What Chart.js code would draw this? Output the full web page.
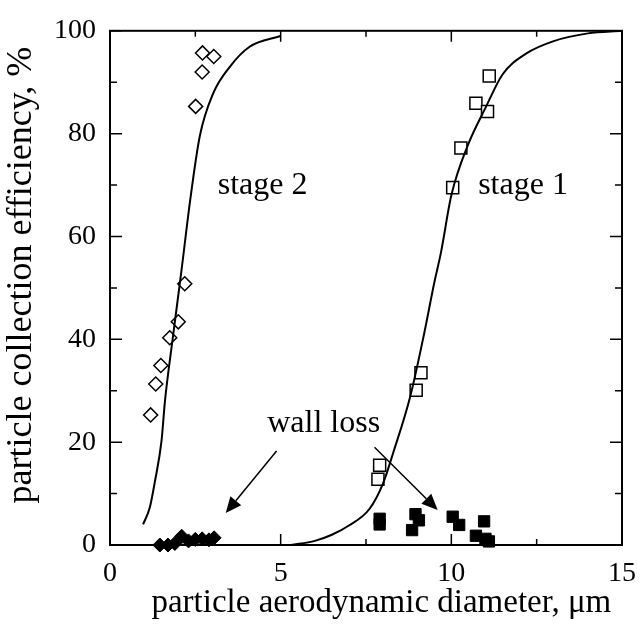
<!DOCTYPE html>
<html>
<head>
<meta charset="utf-8">
<script src="https://cdn.jsdelivr.net/npm/chart.js@4.4.0/dist/chart.umd.min.js"></script>
<style>
html, body { margin: 0; padding: 0; background: #fff; }
</style>
</head>
<body>
<canvas id="chart" width="640" height="627"></canvas>
<script>
// stage 2 collection efficiency (open diamonds)
const stage2X = [1.19, 1.34, 1.49, 1.75, 2.0, 2.19, 2.51, 2.70, 2.71, 3.04]
const stage2Y = [25.3, 31.3, 34.9, 40.3, 43.4, 50.8, 85.3, 92.0, 95.7, 95.0]

// stage 1 collection efficiency (open squares)
const stage1X = [7.85, 7.9, 8.97, 9.11, 10.04, 10.28, 10.72, 11.06, 11.11]
const stage1Y = [12.8, 15.5, 30.1, 33.5, 69.5, 77.2, 85.9, 84.3, 91.2]

// wall loss near stage 2 (filled diamonds)
const wall2X = [1.46, 1.7, 1.9, 2.1, 2.3, 2.5, 2.7, 2.9, 3.05]
const wall2Y = [0, 0, 0.3, 1.7, 0.8, 1.1, 1.2, 1.0, 1.4]

// wall loss near stage 1 (filled squares)
const wall1X = [7.9, 7.9, 8.95, 9.05, 8.85, 10.04, 10.23, 10.96, 10.72, 11.0, 11.1]
const wall1Y = [5.1, 4.0, 6.0, 4.8, 2.9, 5.5, 3.9, 4.6, 1.8, 1.2, 0.7]

// fitted efficiency curves
const curve2X = [0.97, 1.17, 1.32, 1.51, 1.61, 1.85, 2.10, 2.34, 2.63, 3.02, 3.51, 4.09, 5.0]
const curve2Y = [4, 7.4, 12.5, 20.3, 28, 40.8, 53.7, 66.6, 79.5, 87.8, 93, 96.9, 99]
const curve1X = [5.3, 6.0, 6.5, 7.0, 7.6, 8.0, 8.3, 8.8, 9.2, 9.5, 9.7, 10.0, 10.5, 11.0, 11.5, 12.2, 13, 14, 15]
const curve1Y = [0, 0.8, 2, 3.8, 7, 12, 18, 29, 41, 51, 57, 68, 78, 85, 91.5, 95.6, 98, 99.5, 100]

// axis ticks
const xMajor = [0, 5, 10, 15]
const xMinor = [2.5, 7.5, 12.5]
const yMajor = [0, 20, 40, 60, 80, 100]
const yMinor = [10, 30, 50, 70, 90]

// axis titles
const xTitle = 'particle aerodynamic diameter, \u03bcm'
const yTitle = 'particle collection efficiency, %'

// text labels and arrows (data coords)
const labels = [
    { text: 'stage 2', x: 4.47, y: 69.9 },
    { text: 'stage 1', x: 12.1, y: 69.9 },
    { text: 'wall loss', x: 6.26, y: 23.6 }
]
const arrows = [
    { from: [4.88, 18.3], to: [3.39, 6.2] },
    { from: [7.75, 19.0], to: [9.6, 6.8] }
]

const serif = "'Liberation Serif', 'DejaVu Serif', serif"
Chart.defaults.font.family = serif
Chart.defaults.color = '#000'

function pts(xs, ys) {
    let out = []
    for (let i = 0; i < xs.length; i++) {
        out.push({ x: xs[i], y: ys[i] })
    }
    return out
}

const framePlugin = {
    id: 'frame',
    afterDraw(chart) {
        const ctx = chart.ctx
        const a = chart.chartArea
        const xs = chart.scales.x
        const ys = chart.scales.y
        ctx.save()
        ctx.strokeStyle = '#000'
        ctx.lineWidth = 2
        ctx.strokeRect(a.left, a.top, a.right - a.left, a.bottom - a.top)

        // inward ticks on all four sides
        ctx.lineWidth = 1.5
        function xtick(v, len) {
            const px = xs.getPixelForValue(v)
            ctx.beginPath()
            ctx.moveTo(px, a.bottom); ctx.lineTo(px, a.bottom - len)
            ctx.moveTo(px, a.top); ctx.lineTo(px, a.top + len)
            ctx.stroke()
        }
        function ytick(v, len) {
            const py = ys.getPixelForValue(v)
            ctx.beginPath()
            ctx.moveTo(a.left, py); ctx.lineTo(a.left + len, py)
            ctx.moveTo(a.right, py); ctx.lineTo(a.right - len, py)
            ctx.stroke()
        }
        xMajor.forEach(v => xtick(v, 11))
        xMinor.forEach(v => xtick(v, 6))
        yMajor.forEach(v => ytick(v, 12))
        yMinor.forEach(v => ytick(v, 7))

        // text
        ctx.fillStyle = '#000'
        ctx.font = '32px ' + serif
        ctx.textAlign = 'center'
        ctx.textBaseline = 'middle'
        labels.forEach(l => {
            ctx.fillText(l.text, xs.getPixelForValue(l.x), ys.getPixelForValue(l.y))
        })

        // axis titles (the original sits a little off centre)
        ctx.font = '33px ' + serif
        ctx.fillText(xTitle, xs.getPixelForValue(7.95), a.bottom + 58)
        ctx.save()
        ctx.font = '36px ' + serif
        ctx.translate(22, ys.getPixelForValue(52.5))
        ctx.rotate(-Math.PI / 2)
        ctx.fillText(yTitle, 0, 0)
        ctx.restore()

        // arrows
        ctx.lineWidth = 1.5
        arrows.forEach(ar => {
            const x1 = xs.getPixelForValue(ar.from[0]), y1 = ys.getPixelForValue(ar.from[1])
            const x2 = xs.getPixelForValue(ar.to[0]), y2 = ys.getPixelForValue(ar.to[1])
            const ang = Math.atan2(y2 - y1, x2 - x1)
            const hl = 16, hw = 7
            const bx = x2 - hl * Math.cos(ang), by = y2 - hl * Math.sin(ang)
            ctx.beginPath()
            ctx.moveTo(x1, y1); ctx.lineTo(bx, by)
            ctx.stroke()
            ctx.beginPath()
            ctx.moveTo(x2, y2)
            ctx.lineTo(bx + hw * Math.sin(ang), by - hw * Math.cos(ang))
            ctx.lineTo(bx - hw * Math.sin(ang), by + hw * Math.cos(ang))
            ctx.closePath()
            ctx.fill()
        })
        ctx.restore()
    }
}

new Chart(document.getElementById('chart'), {
    type: 'scatter',
    data: {
        datasets: [
            {
                label: 'stage 2 fit', data: pts(curve2X, curve2Y), showLine: true,
                borderColor: '#000', borderWidth: 2, pointRadius: 0, cubicInterpolationMode: 'monotone'
            },
            {
                label: 'stage 1 fit', data: pts(curve1X, curve1Y), showLine: true,
                borderColor: '#000', borderWidth: 2, pointRadius: 0, cubicInterpolationMode: 'monotone'
            },
            {
                label: 'stage 2', data: pts(stage2X, stage2Y), pointStyle: 'rectRot', pointRadius: 7,
                backgroundColor: '#fff', borderColor: '#000', borderWidth: 1.5, clip: false
            },
            {
                label: 'stage 1', data: pts(stage1X, stage1Y), pointStyle: 'rect', pointRadius: 8.5,
                backgroundColor: '#fff', borderColor: '#000', borderWidth: 1.5, clip: false
            },
            {
                label: 'wall loss 2', data: pts(wall2X, wall2Y), pointStyle: 'rectRot', pointRadius: 7,
                backgroundColor: '#000', borderColor: '#000', borderWidth: 1, clip: false
            },
            {
                label: 'wall loss 1', data: pts(wall1X, wall1Y), pointStyle: 'rect', pointRadius: 8,
                backgroundColor: '#000', borderColor: '#000', borderWidth: 1, clip: false
            }
        ]
    },
    options: {
        responsive: false,
        animation: false,
        events: [],
        layout: { padding: { top: 27, right: 18, bottom: 0, left: 0 } },
        plugins: { legend: { display: false }, tooltip: { enabled: false } },
        scales: {
            x: {
                type: 'linear', min: 0, max: 15,
                grid: { display: false, drawTicks: false },
                border: { display: false },
                ticks: { stepSize: 5, padding: 12, font: { size: 28 }, color: '#000' },
                afterFit: function (scale) {
                    scale.height = 82
                    scale.paddingRight = 0
                }
            },
            y: {
                type: 'linear', min: 0, max: 100,
                grid: { display: false, drawTicks: false },
                border: { display: false },
                ticks: { stepSize: 20, padding: 14, font: { size: 28 }, color: '#000' },
                afterFit: function (scale) { scale.width = 110 }
            }
        }
    },
    plugins: [framePlugin]
});
</script>
</body>
</html>
